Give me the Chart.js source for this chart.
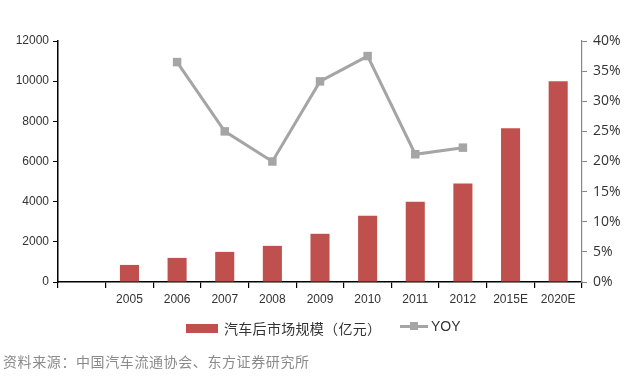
<!DOCTYPE html>
<html>
<head>
<meta charset="utf-8">
<script src="https://cdn.jsdelivr.net/npm/chart.js@4"></script>
<style>
  html, body { margin: 0; padding: 0; background: #fff; }
  #wrap { position: relative; width: 639px; height: 377px; }
  #grafica { position: absolute; left: 0; top: 0; }
  .leyenda { position: absolute; top: 318px; font-size: 14px; color: #333; display: flex; align-items: center; }
  .caja-roja { width: 32px; height: 9px; background: #C0504D; margin-right: 6px; }
  .linea-gris { position: relative; width: 28px; height: 3px; background: #A5A5A5; margin-right: 3px; }
  .linea-gris span { position: absolute; left: 10px; top: -3px; width: 8px; height: 8px; background: #A5A5A5; }
  #fuente { position: absolute; left: 3px; top: 351px; font-size: 14px; letter-spacing: 0.6px; color: #8a8a8a;
    font-family: "Noto Sans CJK SC", sans-serif; }
</style>
</head>
<body>
<div id="wrap">
  <canvas id="grafica" width="639" height="377"></canvas>
  <div class="leyenda" style="left:186px; font-family:'Noto Sans CJK SC', sans-serif; letter-spacing:0.3px;">
    <div class="caja-roja"></div>汽车后市场规模（亿元）
  </div>
  <div class="leyenda" style="left:400px; font-family:'Liberation Sans', Arial, sans-serif;">
    <div class="linea-gris"><span></span></div>YOY
  </div>
  <div id="fuente">资料来源：中国汽车流通协会、东方证券研究所</div>
</div>
<script>
// --- Datos ---
const categorias = ['', '2005', '2006', '2007', '2008', '2009', '2010', '2011', '2012', '2015E', '2020E'];
const mercado = [null, 850, 1200, 1500, 1800, 2400, 3300, 4000, 4900, 7650, 10000];
const yoy = [null, null, 36.5, 25.0, 20.0, 33.3, 37.5, 21.2, 22.3, null, null];

const fuenteEjes = { family: "'Liberation Sans', Arial, sans-serif", size: 12 };

const ctx = document.getElementById('grafica');
new Chart(ctx, {
  data: {
    labels: categorias,
    datasets: [
      {
        type: 'line',
        label: 'YOY',
        data: yoy,
        yAxisID: 'yDer',
        borderColor: '#A5A5A5',
        backgroundColor: '#A5A5A5',
        borderWidth: 3,
        pointStyle: 'rect',
        pointRadius: 6,
        pointBorderWidth: 0,
        spanGaps: false,
        order: 0
      },
      {
        type: 'bar',
        label: '汽车后市场规模（亿元）',
        data: mercado,
        yAxisID: 'yIzq',
        backgroundColor: '#C0504D',
        categoryPercentage: 1,
        barPercentage: 0.4,
        order: 1
      }
    ]
  },
  options: {
    responsive: false,
    animation: false,
    layout: { padding: { top: 41, right: 0, left: 0, bottom: 0 } },
    plugins: { legend: { display: false }, tooltip: { enabled: false } },
    scales: {
      x: {
        grid: { display: true, drawOnChartArea: false, offset: true, tickLength: 6, color: '#000', lineWidth: 1.2 },
        border: { color: '#000', width: 1.5 },
        ticks: { color: '#333', font: fuenteEjes, padding: 4, maxRotation: 0 },
        afterFit: s => { s.height = 377 - 282; }
      },
      yIzq: {
        position: 'left',
        min: 0, max: 12000,
        grid: { drawOnChartArea: false, tickLength: 5, color: '#000' },
        border: { color: '#000', width: 1.5 },
        ticks: { stepSize: 2000, color: '#333', font: fuenteEjes, padding: 4, callback: v => String(v) },
        afterFit: s => { s.width = 58; }
      },
      yDer: {
        position: 'right',
        min: 0, max: 40,
        grid: { drawOnChartArea: false, tickLength: 5, color: '#868686' },
        border: { color: '#868686', width: 1.2 },
        ticks: {
          stepSize: 5, color: '#333', padding: 6,
          font: { family: "'Open Sans', 'Noto Sans', sans-serif", size: 14 },
          callback: v => v + '%'
        },
        afterFit: s => { s.width = 639 - 582; }
      }
    }
  }
});
</script>
</body>
</html>
